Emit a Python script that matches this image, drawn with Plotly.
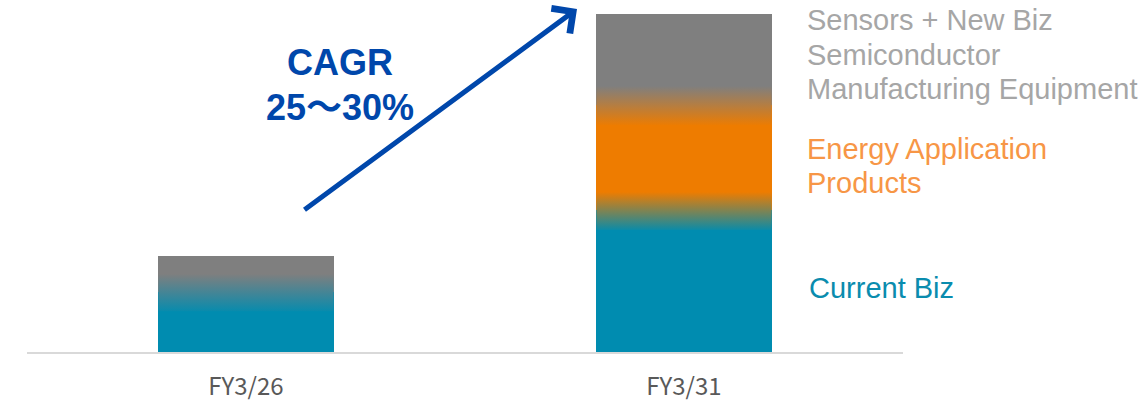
import plotly.graph_objects as go

# ---- data (arbitrary units) ----
categories = ["FY3/26", "FY3/31"]
current_biz = [6.1, 14.3]
energy_products = [0.0, 10.6]
sensors_new_biz = [3.6, 9.2]

series_names = ["Current Biz", "Energy Application Products",
                "Sensors + New Biz / Semiconductor Manufacturing Equipment"]
series_values = [current_biz, energy_products, sensors_new_biz]

# ---- styles ----
colors = ["#008cb0", "#ee7c00", "#7f7f7f"]
BAR_W = 0.4
BLEND = 2.0
BLUE = "#0047ab"

W, H = 1147, 402
ML, MR, MT, MB = 27, 244, 0, 47
x_pos = list(range(len(categories)))

fig = go.Figure()

for name, vals, col in zip(series_names, series_values, colors):
    fig.add_trace(go.Bar(
        x=x_pos, y=vals, name=name, width=BAR_W,
        marker=dict(color=col, line=dict(width=0)),
        hoverinfo="skip", showlegend=False,
    ))

# gradient blends at segment boundaries
for i in x_pos:
    segs = [(vals[i], col) for vals, col in zip(series_values, colors) if vals[i] > 0]
    cum = 0.0
    for k in range(len(segs) - 1):
        cum += segs[k][0]
        lo, hi = cum - BLEND, cum + BLEND
        x0, x1 = i - BAR_W / 2, i + BAR_W / 2
        fig.add_trace(go.Scatter(
            x=[x0, x1, x1, x0, x0], y=[lo, lo, hi, hi, lo],
            mode="lines", line=dict(width=0), fill="toself",
            fillgradient=dict(type="vertical", start=lo, stop=hi,
                              colorscale=[[0, segs[k][1]], [1, segs[k + 1][1]]]),
            hoverinfo="skip", showlegend=False,
        ))

pw, ph = W - ML - MR, H - MT - MB
def px(x):
    return (x - ML) / pw
def py(y):
    return (H - MB - y) / ph

ann = []
label_font = "Liberation Sans, Arial, sans-serif"
grey_lines = [("Sensors + New Biz", 20), ("Semiconductor", 55), ("Manufacturing Equipment", 90)]
for t, y in grey_lines:
    ann.append(dict(text=t, x=px(805), y=py(y), xanchor="left", yanchor="middle",
                    font=dict(family=label_font, size=29, color="#a6a6a6")))
for t, y in [("Energy Application", 150), ("Products", 185)]:
    ann.append(dict(text=t, x=px(805), y=py(y), xanchor="left", yanchor="middle",
                    font=dict(family=label_font, size=29, color="#f79646")))
ann.append(dict(text="Current Biz", x=px(807), y=py(290), xanchor="left", yanchor="middle",
                font=dict(family=label_font, size=29, color="#0a8cae")))

ann.append(dict(text="<b>CAGR</b>", x=px(340), y=py(63), xanchor="center", yanchor="middle",
                font=dict(family=label_font, size=36, color=BLUE)))
ann.append(dict(text="<b>25～30%</b>", x=px(340), y=py(108), xanchor="center", yanchor="middle",
                font=dict(family="Liberation Sans, Noto Sans CJK JP, sans-serif", size=36, color=BLUE)))

# arrow
ann.append(dict(text="", x=px(577), y=py(9), ax=303 - 577, ay=211 - 9,
                showarrow=True, arrowhead=4, arrowwidth=5, arrowsize=1.2,
                arrowcolor=BLUE))

for a in ann:
    a.setdefault("xref", "paper")
    a.setdefault("yref", "paper")
    a.setdefault("showarrow", False)

fig.update_layout(
    width=W, height=H,
    margin=dict(l=ML, r=MR, t=MT, b=MB, pad=0),
    paper_bgcolor="white", plot_bgcolor="white",
    barmode="stack", bargap=0,
    annotations=ann,
    xaxis=dict(range=[-0.5, 1.5], tickvals=x_pos, ticktext=categories,
               showgrid=False, zeroline=False, showline=True,
               linecolor="#d9d9d9", linewidth=2, ticks="",
               ticklabelstandoff=12,
               tickfont=dict(family="Noto Sans CJK JP", size=24, color="#595959"),
               fixedrange=True),
    yaxis=dict(range=[0, 35.5], visible=False, fixedrange=True),
)

fig.write_html("out.html", config={"displayModeBar": False})
